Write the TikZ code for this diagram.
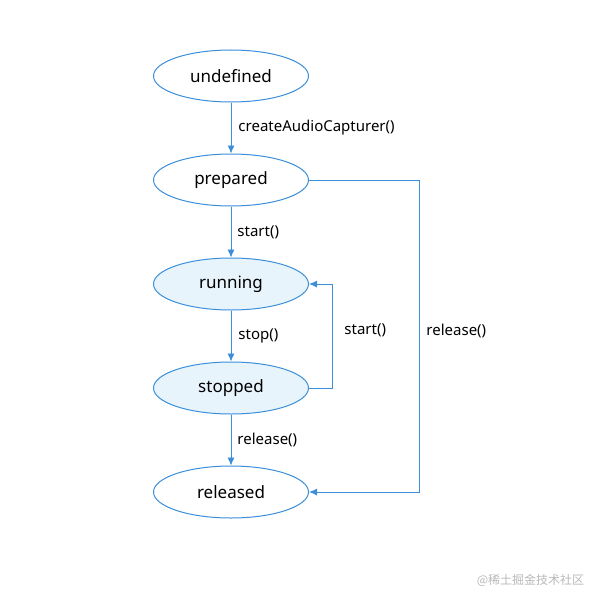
\documentclass[tikz,border=0pt]{standalone}
\usepackage{fontspec}
\setmainfont{Noto Sans}
\newfontfamily\cjkfont{Noto Sans CJK SC}
\usetikzlibrary{arrows.meta, positioning, shapes.geometric}

\definecolor{lineblue}{RGB}{58,142,218}
\definecolor{stateblue}{RGB}{232,244,252}

\begin{document}
\begin{tikzpicture}[
      node distance=51pt,
      state/.style={ellipse, draw=lineblue, line width=1pt, fill=white,
        minimum width=155pt, minimum height=52pt, inner sep=0pt,
        font=\fontsize{17}{20}\selectfont},
      active/.style={state, fill=stateblue},
      lbl/.style={font=\fontsize{15}{18}\selectfont, inner sep=0pt},
      >={Latex[length=8pt,width=7pt]},
      every path/.style={line width=0.9pt},
    ]
    \useasboundingbox (0,0) rectangle (591pt,-594pt);
    \node[state] (undef) at (231pt,-76pt) {undefined};
    \node[state, below=of undef] (prep) {prepared};
    \node[active, below=of prep] (run) {running};
    \node[active, below=of run] (stop) {stopped};
    \node[state, below=of stop] (rel) {released};
    \draw[->, lineblue] (undef) -- node[lbl, right=7pt, text=black] {createAudioCapturer()} (prep);
    \draw[->, lineblue] (prep) -- node[lbl, right=6pt, text=black] {start()} (run);
    \draw[->, lineblue] (run) -- node[lbl, right=7pt, text=black] {stop()} (stop);
    \draw[->, lineblue] (stop) -- node[lbl, right=6pt, text=black] {release()} (rel);
    \draw[->, lineblue] (stop.east) -- ++(23pt,0) |- node[lbl, pos=0.25, right=12pt, yshift=6pt, text=black] {start()} (run.east);
    \draw[->, lineblue] (prep.east) -- ++(110pt,0) |- node[lbl, pos=0.25, right=7pt, yshift=5pt, text=black] {release()} (rel.east);
    \node[font=\cjkfont\fontsize{12}{14}\selectfont, text=black!28, anchor=east] (mark) at (588pt,-580pt) {@稀土掘金技术社区};
  \end{tikzpicture}
\end{document}
